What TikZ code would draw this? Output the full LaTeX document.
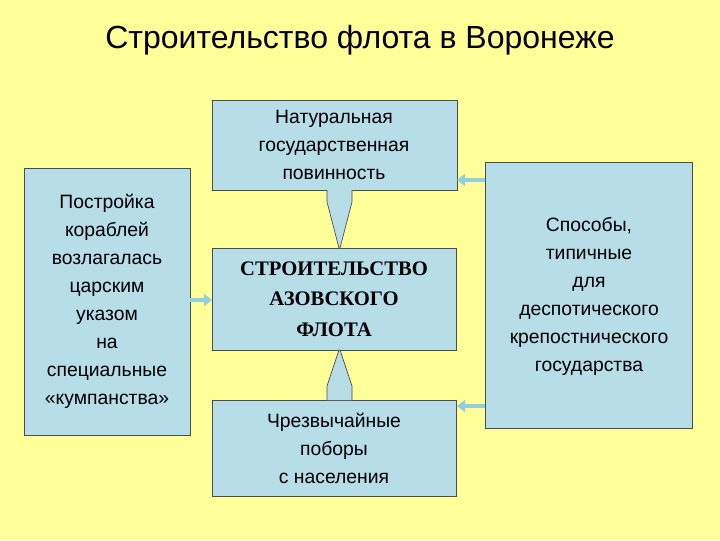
\documentclass[tikz,border=0pt]{standalone}
\usepackage{fontspec}
\setmainfont{Liberation Sans}
\newfontfamily\serifb{Liberation Serif}
\usetikzlibrary{arrows.meta}
\definecolor{bg}{HTML}{FFFF99}
\definecolor{bx}{HTML}{B7DDE8}
\definecolor{ar}{HTML}{8FCFE0}
\begin{document}
\begin{tikzpicture}[x=0.75pt,y=-0.75pt,
  box/.style={draw=black!70,fill=bx,line width=0.5pt},
  txt/.style={align=center,font=\fontsize{14.5}{21}\selectfont},
  arr/.style={draw=ar,line width=3pt,-{Triangle[length=6pt,width=9pt]}}]
\fill[bg] (0,0) rectangle (720,540);
\node[font=\fontsize{24}{28}\selectfont] (title) at (360,40) {Строительство флота в Воронеже};
\draw[box] (24,168) rectangle (190,435);
\draw[box] (212,100) rectangle (457,190);
\draw[box] (212,248) rectangle (456,350);
\draw[box] (212,400) rectangle (456,496);
\draw[box] (485,162) rectangle (692,428);
\coordinate (L) at (190,300); \coordinate (C) at (212,300);
\coordinate (R1) at (485,180); \coordinate (T1) at (457,180);
\coordinate (R2) at (485,406); \coordinate (B2) at (457,406);
\node[txt] (left) at (107,301) {Постройка\\кораблей\\возлагалась\\царским\\указом\\на\\специальные\\«кумпанства»};
\node[txt] (top) at (334,145) {Натуральная\\государственная\\повинность};
\node[align=center,font=\serifb\bfseries\fontsize{15.5}{23}\selectfont] (center) at (334,299) {СТРОИТЕЛЬСТВО\\АЗОВСКОГО\\ФЛОТА};
\node[txt] (bottom) at (334,448) {Чрезвычайные\\поборы\\с населения};
\node[txt] (right) at (589,296) {Способы,\\типичные\\для\\деспотического\\крепостнического\\государства};
\draw[box] (327,190) -- (327,202) -- (339,248) -- (340,248) -- (352,202) -- (352,190);
\draw[box] (327,400) -- (327,386) -- (339,350) -- (340,350) -- (352,386) -- (352,400);
\draw[arr] (L) -- (C);
\draw[arr] (R1) -- (T1);
\draw[arr] (R2) -- (B2);
\end{tikzpicture}
\end{document}
